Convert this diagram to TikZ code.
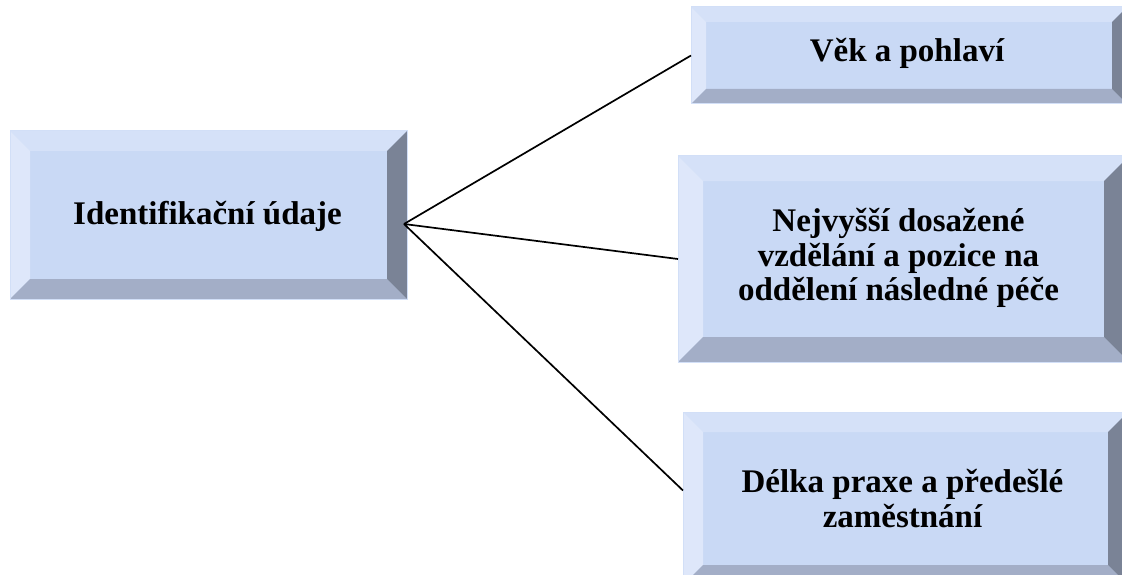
\documentclass[tikz,border=0pt]{standalone}
\usepackage{fontspec}
\setmainfont{Liberation Serif}
\usetikzlibrary{calc}
\definecolor{bvface}{HTML}{C9D9F5}
\definecolor{bvtop}{HTML}{D5E1F8}
\definecolor{bvleft}{HTML}{DEE7FA}
\definecolor{bvbottom}{HTML}{A3AEC7}
\definecolor{bvright}{HTML}{7A8396}
\definecolor{bvrim}{HTML}{D2DFF7}
\tikzset{
  boxframe/.style={inner sep=0pt, outer sep=0pt},
  boxtext/.style={font=\bfseries\fontsize{33}{34.5}\selectfont, align=center, text=black, inner sep=0pt},
  conn/.style={draw=black, line width=1.7pt},
}
% name, center x, center y, width, height, bevel
\newcommand{\bevbox}[6]{%
  \node[boxframe, minimum width=#4pt, minimum height=#5pt] (#1) at (#2,#3) {};
  \fill[bvface] (#1.north west) rectangle (#1.south east);
  \fill[bvtop] (#1.north west) -- (#1.north east) -- ($(#1.north east)+(-#6,#6)$) -- ($(#1.north west)+(#6,#6)$) -- cycle;
  \fill[bvleft] (#1.north west) -- ($(#1.north west)+(#6,#6)$) -- ($(#1.south west)+(#6,-#6)$) -- (#1.south west) -- cycle;
  \fill[bvbottom] (#1.south west) -- ($(#1.south west)+(#6,-#6)$) -- ($(#1.south east)+(-#6,-#6)$) -- (#1.south east) -- cycle;
  \fill[bvright] (#1.north east) -- ($(#1.north east)+(-#6,#6)$) -- ($(#1.south east)+(-#6,-#6)$) -- (#1.south east) -- cycle;
  \draw[bvrim, line width=1pt] (#1.north west) rectangle (#1.south east);
}
\begin{document}
\begin{tikzpicture}[x=1pt,y=-1pt]
  \useasboundingbox (0,0) rectangle (1122,575);
  \clip (0,0) rectangle (1122,575);
  \fill[white] (0,0) rectangle (1122,575);

  \bevbox{L}{208.5}{215}{397}{168}{20}
  \bevbox{T}{909}{55.5}{436}{97}{15}
  \bevbox{M}{903.5}{259}{451}{206}{25}
  \bevbox{B}{905.5}{498.5}{445}{173}{20}

  \node[boxtext] (Ltext) at ($(L.center)+(-1,1)$) {Identifikační údaje};
  \begin{scope}
    \clip (T.north west) rectangle ($(T.north east)+(0,63)$);
    \node[boxtext] (Ttext) at ($(T.center)+(-2,-2)$) {Věk a pohlaví};
  \end{scope}
  \node[boxtext] (Mtext) at ($(M.center)+(-5,-1)$) {Nejvyšší dosažené\\vzdělání a pozice na\\oddělení následné péče};
  \node[boxtext] (Btext) at ($(B.center)+(-3,0)$) {Délka praxe a předešlé\\zaměstnání};

  \coordinate (hub) at ($(L.east)+(-3,9)$);
  \coordinate (Bend) at ($(B.west)+(0,-8)$);
  \draw[conn] (hub) -- (T.west);
  \draw[conn] (hub) -- (M.west);
  \draw[conn] (hub) -- (Bend);
\end{tikzpicture}
\end{document}
